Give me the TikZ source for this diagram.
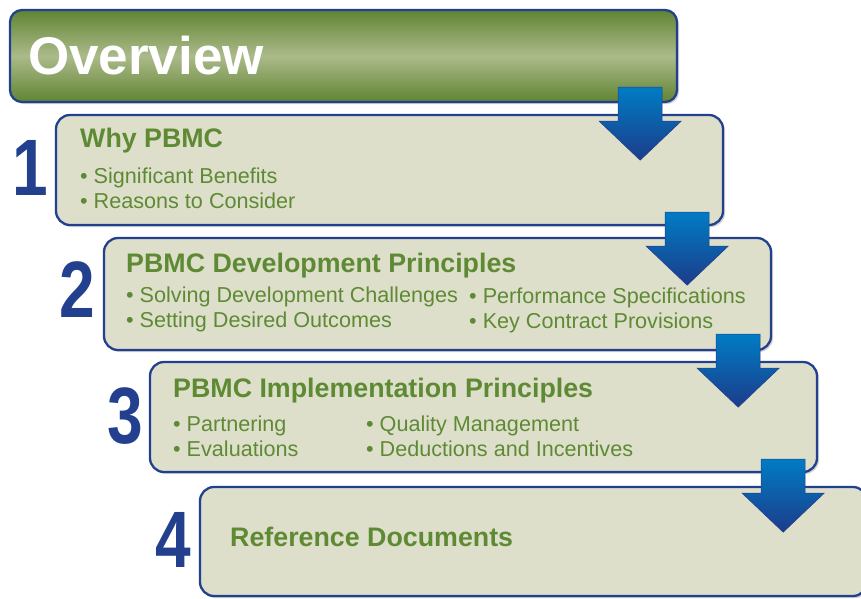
\documentclass[tikz,border=0pt]{standalone}
\usepackage{fontspec}
\setmainfont{Liberation Sans}
\usepackage{tikz}
\usetikzlibrary{positioning, calc, shadows}

\definecolor{frameblue}{RGB}{35, 64, 142}
\definecolor{stepfill}{RGB}{222, 223, 203}
\definecolor{leafgreen}{RGB}{94, 138, 52}
\definecolor{olivedark}{RGB}{96, 132, 50}
\definecolor{olivelight}{RGB}{172, 186, 138}
\definecolor{arrowtop}{RGB}{0, 124, 196}
\definecolor{arrowbot}{RGB}{28, 60, 138}

\tikzset{
  stepbox/.style={draw=frameblue, line width=2.3pt, fill=stepfill, rounded corners=14pt,
    minimum width=667pt, minimum height=110pt, inner sep=0pt,
    drop shadow={shadow xshift=2pt, shadow yshift=-2pt, opacity=0.3, fill=black!60}},
  steptitle/.style={font=\fontsize{26.8}{30}\selectfont\bfseries, text=leafgreen, anchor=base west, inner sep=0pt},
  stepitem/.style={font=\fontsize{21.6}{25}\selectfont, text=leafgreen, anchor=base west, inner sep=0pt},
  stepnum/.style={font=\fontsize{80}{80}\selectfont\bfseries, text=frameblue, anchor=base, xscale=0.8, inner sep=0pt}
}

% block arrow pointing down, #1 = middle of its top edge
\newcommand{\stepdown}[1]{%
  \shadedraw[top color=arrowtop, bottom color=arrowbot, draw=frameblue, line width=0.6pt]
    ($(#1)+(-22,0)$) -- ++(44,0) -- ++(0,34) -- ++(19,0) -- ($(#1)+(0,73)$)
    -- ($(#1)+(-41,34)$) -- ++(19,0) -- cycle;
}

\begin{document}
\begin{tikzpicture}[x=1pt, y=-1pt]
  \useasboundingbox (0,0) rectangle (861,598);

  % Title bar
  \node[draw=frameblue, line width=2.3pt, rounded corners=12pt, minimum width=667pt, minimum height=92pt,
        top color=olivedark, bottom color=olivedark, middle color=olivelight,
        drop shadow={shadow xshift=2pt, shadow yshift=-2pt, opacity=0.3, fill=black!60}] (top) at (343.5,56) {};
  \node[font=\fontsize{53}{56}\selectfont\bfseries, text=white, anchor=base west, inner sep=0pt] (toptext) at (28,74) {Overview};

  % Step 1
  \node[stepbox] (box1) at (389.5,170) {};
  \node[stepnum] (num1) at (30,195) {1};
  \node[steptitle] (t1) at (80,147) {Why PBMC};
  \node[stepitem] (i11) at (80,183) {\textbullet\ Significant Benefits};
  \node[stepitem] (i12) at (80,208) {\textbullet\ Reasons to Consider};
  \coordinate (a1) at ($(box1.east |- top.south)+(-84,-16)$);
  \stepdown{a1}

  % Step 2
  \node[stepbox, minimum height=112pt] (box2) at (437.5,294) {};
  \node[stepnum] (num2) at (77,317) {2};
  \node[steptitle] (t2) at (126,272) {PBMC Development Principles};
  \node[stepitem] (i21) at (126,302) {\textbullet\ Solving Development Challenges};
  \node[stepitem] (i22) at (126,327) {\textbullet\ Setting Desired Outcomes};
  \node[stepitem] (i23) at (469,303) {\textbullet\ Performance Specifications};
  \node[stepitem] (i24) at (469,328) {\textbullet\ Key Contract Provisions};
  \coordinate (a2) at ($(box2.east |- box1.south)+(-85,-14)$);
  \stepdown{a2}

  % Step 3
  \node[stepbox] (box3) at (483.5,417) {};
  \node[stepnum] (num3) at (125,443) {3};
  \node[steptitle] (t3) at (173,397) {PBMC Implementation Principles};
  \node[stepitem] (i31) at (173,431) {\textbullet\ Partnering};
  \node[stepitem] (i32) at (173,456) {\textbullet\ Evaluations};
  \node[stepitem] (i33) at (366,431) {\textbullet\ Quality Management};
  \node[stepitem] (i34) at (366,456) {\textbullet\ Deductions and Incentives};
  \coordinate (a3) at ($(box3.east |- box2.south)+(-80,-17)$);
  \stepdown{a3}

  % Step 4
  \node[stepbox, minimum height=109pt] (box4) at (533.5,541.5) {};
  \node[stepnum] (num4) at (173,567) {4};
  \node[steptitle] (t4) at (230,546) {Reference Documents};
  \coordinate (a4) at ($(box4.east |- box3.south)+(-85,-14)$);
  \stepdown{a4}
\end{tikzpicture}
\end{document}
